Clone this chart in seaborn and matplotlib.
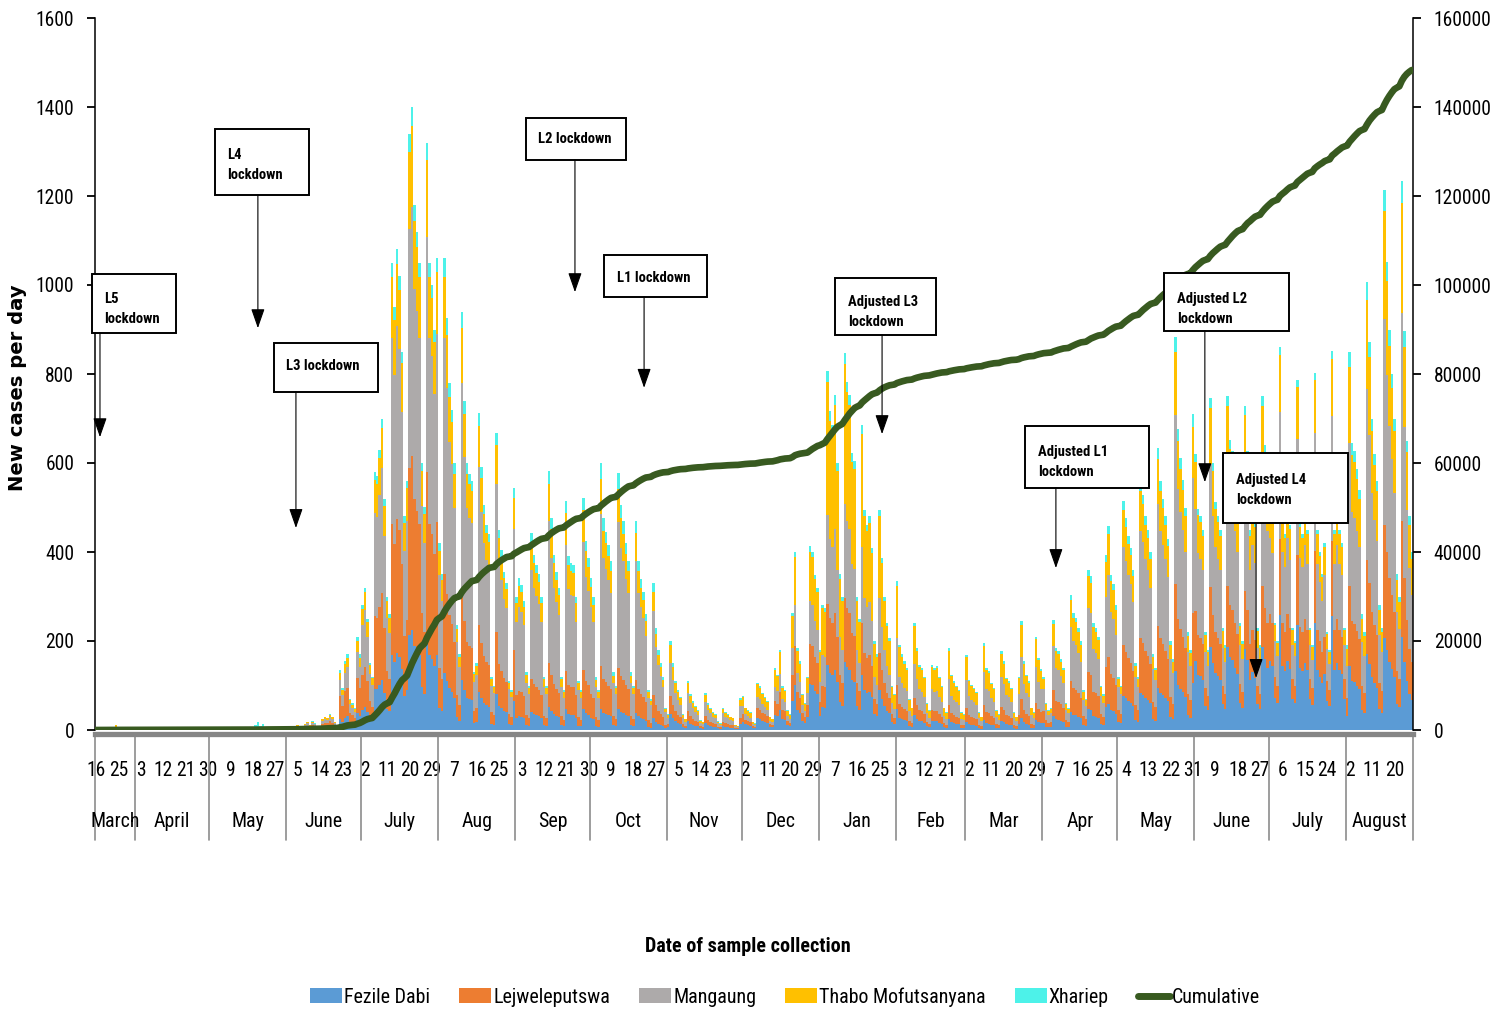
import numpy as np
import pandas as pd
import matplotlib

matplotlib.use("Agg")
import matplotlib.pyplot as plt
from matplotlib import font_manager
from matplotlib.lines import Line2D
from matplotlib.patches import Patch, Rectangle
import seaborn as sns

sns.set_theme(style="white")

# pick a narrow family if one is installed (the original uses a condensed face)
ttf = font_manager.fontManager.ttflist
names = {f.name for f in ttf}
FONT, STRETCH = None, "normal"
for n in ["Liberation Sans Narrow", "Arial Narrow", "Roboto Condensed",
          "Noto Sans Condensed", "Open Sans Condensed", "Ubuntu Condensed"]:
    if n in names:
        FONT = n
        break
if FONT is None:
    for n in ["Noto Sans", "Open Sans", "Roboto", "DejaVu Sans", "Lato", "Inter"]:
        if any(f.name == n and f.stretch in ("condensed", "semi-condensed", "extra-condensed")
               for f in ttf):
            FONT, STRETCH = n, "condensed"
            break
if FONT is None:
    FONT = "Liberation Sans"

plt.rcParams["font.family"] = [FONT, "DejaVu Sans"]
plt.rcParams["font.stretch"] = STRETCH
plt.rcParams["text.color"] = "black"
plt.rcParams["xtick.color"] = "black"
plt.rcParams["ytick.color"] = "black"

START = "2020-03-16"  # a Monday, first day on the chart

# new cases per day, all districts together, one row per week (Mon..Sun)
daily_cases = [
    0, 0, 0, 4, 0, 1, 0,                  # 16 Mar 2020
    0, 12, 7, 0, 1, 0, 2,
    1, 0, 0, 2, 0, 0, 1,
    0, 1, 0, 0, 2, 0, 0,
    1, 0, 0, 1, 0, 0, 0,
    2, 0, 1, 0, 3, 1, 0,
    0, 1, 0, 0, 1, 0, 0,
    1, 0, 2, 0, 1, 0, 0,
    2, 1, 0, 3, 1, 0, 0,
    4, 12, 18, 10, 14, 5, 2,
    2, 1, 3, 0, 2, 6, 3,
    6, 8, 5, 10, 12, 6, 4,                # 1 Jun 2020
    14, 18, 12, 20, 15, 9, 8,
    25, 30, 28, 35, 30, 18, 12,
    135, 95, 155, 170, 70, 60, 50,
    210, 170, 280, 320, 250, 150, 120,
    580, 570, 630, 700, 520, 300, 260,
    1050, 950, 1080, 1020, 850, 480, 560,
    1340, 1400, 1180, 1120, 1050, 600, 500,
    1320, 1050, 1000, 900, 1060, 420, 350,
    1060, 925, 780, 720, 600, 237, 170,   # 3 Aug 2020
    940, 740, 600, 575, 560, 130, 150,
    712, 590, 506, 460, 440, 120, 100,
    667, 450, 405, 356, 330, 110, 90,
    544, 300, 341, 326, 290, 130, 100,
    443, 394, 371, 350, 300, 120, 100,
    581, 476, 394, 356, 320, 120, 90,
    514, 390, 375, 371, 300, 110, 90,
    521, 424, 386, 341, 300, 120, 90,
    600, 476, 446, 416, 380, 130, 100,    # 5 Oct 2020
    577, 506, 469, 420, 380, 130, 100,
    470, 380, 340, 310, 260, 90, 70,
    330, 230, 180, 150, 120, 50, 35,
    200, 150, 110, 90, 75, 35, 25,
    110, 80, 65, 55, 45, 22, 18,
    83, 60, 50, 40, 35, 20, 15,
    50, 40, 35, 30, 28, 12, 10,
    72, 76, 50, 45, 40, 18, 15,
    106, 98, 83, 75, 65, 30, 25,          # 7 Dec 2020
    139, 124, 180, 98, 90, 45, 35,
    263, 401, 184, 154, 80, 60, 120,
    413, 401, 349, 320, 180, 282, 274,
    806, 716, 686, 753, 600, 350, 300,    # 4 Jan 2021
    847, 783, 753, 622, 604, 300, 250,
    686, 495, 461, 480, 409, 200, 170,
    495, 386, 300, 240, 207, 100, 80,
    334, 192, 170, 154, 140, 70, 50,      # 1 Feb 2021
    240, 184, 147, 139, 120, 60, 45,
    147, 139, 143, 120, 100, 50, 40,
    184, 124, 110, 100, 90, 40, 35,
    169, 113, 102, 95, 85, 40, 30,        # 1 Mar 2021
    195, 139, 132, 106, 95, 45, 35,
    177, 154, 117, 110, 95, 40, 30,
    120, 244, 154, 124, 110, 50, 40,
    210, 162, 136, 120, 60, 45, 50,
    248, 184, 177, 160, 140, 60, 50,      # 5 Apr 2021
    304, 263, 252, 229, 200, 90, 70,
    360, 345, 240, 229, 210, 100, 80,
    394, 458, 349, 327, 280, 120, 100,
    514, 476, 435, 409, 360, 150, 120,    # 3 May 2021
    559, 529, 480, 450, 400, 170, 140,
    634, 559, 520, 480, 430, 200, 160,
    884, 676, 611, 562, 500, 220, 180,
    709, 620, 497, 481, 450, 220, 180,
    746, 600, 513, 481, 450, 230, 190,    # 7 Jun 2021
    750, 652, 628, 560, 500, 240, 200,
    729, 628, 449, 520, 470, 230, 190,
    750, 640, 560, 520, 480, 240, 200,
    860, 481, 440, 520, 460, 230, 200,    # 5 Jul 2021
    787, 465, 440, 500, 450, 230, 190,
    803, 449, 400, 350, 420, 220, 180,
    851, 449, 500, 450, 420, 230, 190,
    849, 644, 628, 587, 540, 260, 220,    # 2 Aug 2021
    1007, 872, 700, 620, 560, 280, 230,
    1214, 1051, 900, 800, 700, 350, 300,
    1234, 896, 650, 480, 400,
]

districts = ["Fezile Dabi", "Lejweleputswa", "Mangaung", "Thabo Mofutsanyana", "Xhariep"]
colors = ["#5B9BD5", "#ED7D31", "#ADAAAA", "#FFC000", "#4DF2E9"]
line_color = "#385A20"

# share of each district per month, Mar 2020 .. Aug 2021
share_fezile = [0.10, 0.10, 0.08, 0.18, 0.16, 0.12, 0.09, 0.08, 0.18,
                0.25, 0.18, 0.14, 0.11, 0.13, 0.15, 0.25, 0.30, 0.17]
share_lejwe = [0.25, 0.10, 0.10, 0.38, 0.28, 0.21, 0.17, 0.16, 0.20,
               0.22, 0.17, 0.16, 0.18, 0.23, 0.22, 0.18, 0.20, 0.21]
share_mangaung = [0.30, 0.60, 0.17, 0.27, 0.40, 0.50, 0.55, 0.57, 0.37,
                  0.23, 0.25, 0.32, 0.38, 0.40, 0.43, 0.37, 0.33, 0.38]
share_thabo = [0.25, 0.10, 0.05, 0.12, 0.13, 0.13, 0.14, 0.13, 0.20,
               0.27, 0.37, 0.35, 0.30, 0.20, 0.16, 0.17, 0.15, 0.20]
share_xhariep = [0.10, 0.10, 0.60, 0.05, 0.03, 0.04, 0.05, 0.06, 0.05,
                 0.03, 0.03, 0.03, 0.03, 0.04, 0.04, 0.03, 0.02, 0.04]

month_names = ["March", "April", "May", "June", "July", "Aug", "Sep", "Oct", "Nov",
               "Dec", "Jan", "Feb", "Mar", "Apr", "May", "June", "July", "August"]

# lockdown notes: text, box (days, cases), text anchor, arrow x, arrow tip
notes = [
    ("L5\nlockdown", -1.7, 32.1, 892, 1025, 3.1, 946, 1.5, 658),
    ("L4\nlockdown", 47.8, 85.6, 1202, 1351, 52.6, 1270, 65.0, 903),
    ("L3 lockdown", 71.5, 113.3, 760, 870, 76.3, 818, 80.3, 454),
    ("L2 lockdown", 172.8, 213.0, 1281, 1375, 177.6, 1328, 192.5, 984),
    ("L1 lockdown", 204.2, 245.6, 973, 1067, 209.4, 1016, 220.3, 769),
    ("Adjusted L3\nlockdown", 297.1, 337.7, 888, 1016, 302.3, 939, 316.0, 665),
    ("Adjusted L1\nlockdown", 373.5, 423.3, 544, 683, 378.7, 602, 385.9, 364),
    ("Adjusted L2\nlockdown", 429.4, 479.6, 897, 1027, 434.6, 946, 445.8, 557),
    ("Adjusted L4\nlockdown", 453.1, 503.3, 465, 622, 458.3, 539, 466.4, 117),
]

# build long table
dates = pd.date_range(START, periods=len(daily_cases), freq="D")
day = np.arange(len(dates))
month_idx = np.asarray((dates.year - 2020) * 12 + dates.month - 3)
total = np.array(daily_cases, dtype=float)
shares = [share_fezile, share_lejwe, share_mangaung, share_thabo, share_xhariep]
frames = []
for name, sh in zip(districts, shares):
    frames.append(pd.DataFrame({"day": day, "district": name,
                                "cases": total * np.array(sh)[month_idx]}))
df = pd.concat(frames, ignore_index=True)
cumulative = np.cumsum(total)

W, H = 1493, 1011
fig = plt.figure(figsize=(W / 100, H / 100), dpi=100)
renderer = fig.canvas.get_renderer()


def fit(text, width_px, **kw):
    # font size that gives the text the width it has in the original
    t = fig.text(0, 0, text, fontsize=10, **kw)
    w = t.get_window_extent(renderer).width
    t.remove()
    return 10 * width_px / w


YLABEL_FONT = dict(family=["DejaVu Sans"], fontstretch="normal", fontweight="bold")
TICK_SIZE = min(fit("160000", 57), 17)
MONTH_SIZE = min(fit("August", 55), 17)
LEGEND_SIZE = min(fit("Fezile Dabi", 86), 17)
NOTE_SIZE = min(fit("Adjusted L3", 70, fontweight="bold"), 13)
XLABEL_SIZE = min(fit("Date of sample collection", 204, fontweight="bold"), 16)
YLABEL_SIZE = min(fit("New cases per day", 208, **YLABEL_FONT), 15)

ax = fig.add_axes([95 / W, 1 - 730 / H, 1318 / W, 712 / H])

# seaborn stacks the first hue level on top, so reverse the order
sns.histplot(data=df, x="day", weights="cases", hue="district",
             hue_order=districts[::-1], palette=dict(zip(districts, colors)),
             multiple="stack", discrete=True, shrink=1, alpha=1,
             linewidth=0, antialiased=False, legend=False, ax=ax)

ax.set_xlim(-0.5, len(day) - 0.5)
ax.set_ylim(0, 1600)
ax.set_yticks(range(0, 1601, 200))
ax.set_yticklabels([str(v) for v in range(0, 1601, 200)])
ax.set_xlabel("")
ax.set_ylabel("")

# day labels every 9 days
ax.set_xticks(day[::9])
ax.set_xticklabels([str(d.day) for d in dates[::9]])
ax.tick_params(axis="x", length=0, pad=19, labelsize=TICK_SIZE)
ax.tick_params(axis="y", left=True, length=6, width=1.3, direction="out",
               pad=9, labelsize=TICK_SIZE)

for side in ["top", "right"]:
    ax.spines[side].set_visible(False)
ax.spines["left"].set_color("black")
ax.spines["left"].set_linewidth(1.1)
ax.spines["bottom"].set_color("#868686")
ax.spines["bottom"].set_linewidth(3.8)
ax.spines["bottom"].set_position(("outward", 3))

# month row and separators
starts = list(np.flatnonzero(np.diff(month_idx)) + 1)
bounds = [0] + starts + [len(day)]
trans = ax.get_xaxis_transform()
for b in bounds:
    ax.add_line(Line2D([b - 0.5, b - 0.5], [-0.006, -0.155], transform=trans,
                       clip_on=False, color="#8C8C8C", lw=1.2))
for i, name in enumerate(month_names):
    mid = (bounds[i] + bounds[i + 1]) / 2 - 0.5
    ax.text(mid, -0.129, name, transform=trans, ha="center", va="center",
            fontsize=MONTH_SIZE)

# cumulative on the right axis
ax2 = ax.twinx()
sns.lineplot(x=day, y=cumulative, ax=ax2, color=line_color, linewidth=4.8,
             legend=False, zorder=3)
ax2.set_ylim(0, 160000)
ax2.set_yticks(range(0, 160001, 20000))
ax2.set_yticklabels([str(v) for v in range(0, 160001, 20000)])
ax2.set_ylabel("")
ax2.tick_params(axis="y", right=True, length=6, width=1.3, direction="out",
                pad=9, labelsize=TICK_SIZE)
for side in ["top", "left", "bottom"]:
    ax2.spines[side].set_visible(False)
ax2.spines["right"].set_color("black")
ax2.spines["right"].set_linewidth(1.1)

# lockdown boxes on top of everything
for text, x0, x1, y0, y1, tx, ty, axx, tip in notes:
    ax2.add_patch(Rectangle((x0, y0), x1 - x0, y1 - y0, transform=ax.transData,
                            facecolor="white", edgecolor="black", lw=1.4,
                            zorder=6, clip_on=False))
    ax2.text(tx, ty, text, transform=ax.transData, ha="left", va="center",
             fontsize=NOTE_SIZE, fontweight="bold", linespacing=1.55, zorder=7)
    ax2.annotate("", xy=(axx, tip), xytext=(axx, y0), xycoords=ax.transData,
                 textcoords=ax.transData, zorder=6,
                 arrowprops=dict(arrowstyle="-|>,head_length=1.0,head_width=0.35",
                                 color="black", lw=0.8, shrinkA=0, shrinkB=0))

fig.text(18 / W, 1 - 388 / H, "New cases per day", rotation=90, ha="center",
         va="center", fontsize=YLABEL_SIZE, **YLABEL_FONT)
fig.text(748 / W, 1 - 946 / H, "Date of sample collection", ha="center",
         va="center", fontsize=XLABEL_SIZE, fontweight="bold")

handles = [Patch(facecolor=c, edgecolor="none") for c in colors]
handles.append(Line2D([], [], color=line_color, lw=5))
leg = fig.legend(handles, districts + ["Cumulative"], loc="center",
                 bbox_to_anchor=(785 / W, 1 - 997 / H), ncol=6, frameon=False,
                 fontsize=LEGEND_SIZE, handlelength=32 / (LEGEND_SIZE * 1.389),
                 handleheight=0.75, handletextpad=0.1,
                 columnspacing=29 / (LEGEND_SIZE * 1.389))

fig.savefig("out.png", dpi=100)
